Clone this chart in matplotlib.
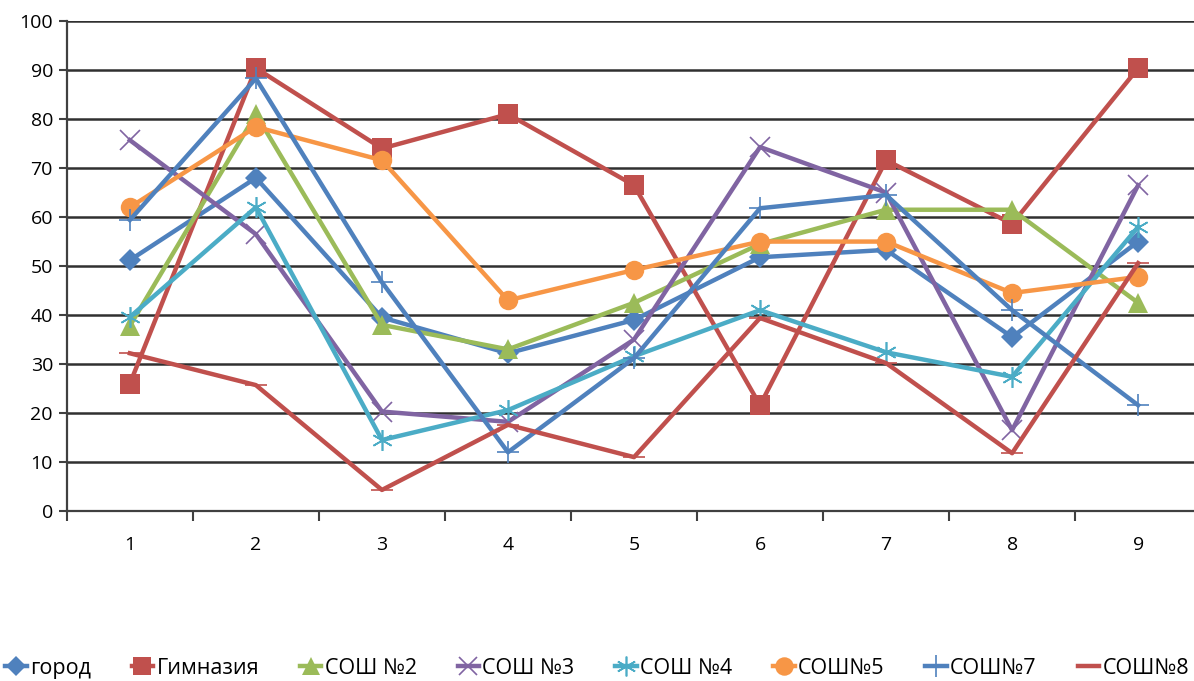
import matplotlib
matplotlib.use("Agg")
import matplotlib.pyplot as plt

categories = [1, 2, 3, 4, 5, 6, 7, 8, 9]
gorod = [51.2, 68, 39.5, 32.2, 39, 51.8, 53.3, 35.5, 55]
gimnaziya = [26, 90.4, 74, 81, 66.5, 21.6, 71.6, 58.6, 90.4]
sosh2 = [37.8, 81, 38, 33, 42.5, 54.5, 61.5, 61.5, 42.5]
sosh3 = [75.7, 56.5, 20.3, 18.2, 35, 74.3, 65, 16.5, 66.5]
sosh4 = [39.6, 62, 14.5, 20.6, 31.6, 41, 32.4, 27.4, 58]
sosh5 = [62, 78.4, 71.6, 43, 49.2, 55, 55, 44.5, 47.8]
sosh7 = [59.4, 88.3, 46.7, 12, 31.2, 61.8, 64.5, 41, 21.6]
sosh8 = [32.2, 25.7, 4.3, 17.6, 11, 39.4, 30.2, 11.8, 50.6]
labels = ["город", "Гимназия", "СОШ №2", "СОШ №3", "СОШ №4", "СОШ№5", "СОШ№7", "СОШ№8"]

plt.rcParams['font.family'] = ['Open Sans', 'DejaVu Sans']

fig = plt.figure(figsize=(11.94, 6.81), dpi=100)
ax = fig.add_axes([0.056, 0.2496, 0.95, 0.7194])

x = list(range(len(categories)))
styles = [
    (gorod, '#4F81BD', 'D', 11, 'full'),
    (gimnaziya, '#C0504D', 's', 14, 'full'),
    (sosh2, '#9BBB59', '^', 14, 'full'),
    (sosh3, '#8064A2', 'x', 14, 'none'),
    (sosh4, '#4BACC6', '*', 15, 'none'),
    (sosh5, '#F79646', 'o', 14, 'full'),
    (sosh7, '#4F81BD', '+', 16, 'none'),
    (sosh8, '#C0504D', '_', 16, 'none'),
]
for (vals, col, mk, ms, fill), lab in zip(styles, labels):
    if mk == '*':
        ax.plot(x, vals, color=col, lw=3.2, label=lab, marker=(6, 2, 0),
                markersize=ms, markeredgewidth=1.2, markeredgecolor=col)
    else:
        ax.plot(x, vals, color=col, lw=3.2, label=lab, marker=mk,
                markersize=ms, markeredgewidth=1.2 if mk in ('x', '+', '_') else 0,
                markeredgecolor=col, markerfacecolor=col)

ax.set_xlim(-0.5, len(categories) - 0.5)
ax.set_ylim(0, 100)
ax.set_yticks(range(0, 101, 10))
ax.yaxis.grid(True, color='#303030', lw=1.8)
ax.set_axisbelow(True)
ax.set_xticks(x)
ax.set_xticklabels([str(c) for c in categories])
ax.set_xticks([i + 0.5 for i in range(-1, len(categories))], minor=True)
ax.tick_params(axis='x', which='major', length=0, pad=18, labelsize=14)
ax.tick_params(axis='x', which='minor', length=7, width=1.5, color='#404040')
ax.tick_params(axis='y', length=6, width=1.5, color='#404040', labelsize=14, pad=4)
for s in ['top', 'right']:
    ax.spines[s].set_visible(False)
ax.spines['left'].set_color('#404040')
ax.spines['left'].set_linewidth(1.6)
ax.spines['bottom'].set_color('#404040')
ax.spines['bottom'].set_linewidth(1.6)

fig.legend(loc='center', bbox_to_anchor=(0.5, 0.019), ncol=8, frameon=False,
           fontsize=15.5, handlelength=1.0, handletextpad=0.15, columnspacing=1.9,
           markerscale=0.95)

fig.savefig('out.png', dpi=100)
